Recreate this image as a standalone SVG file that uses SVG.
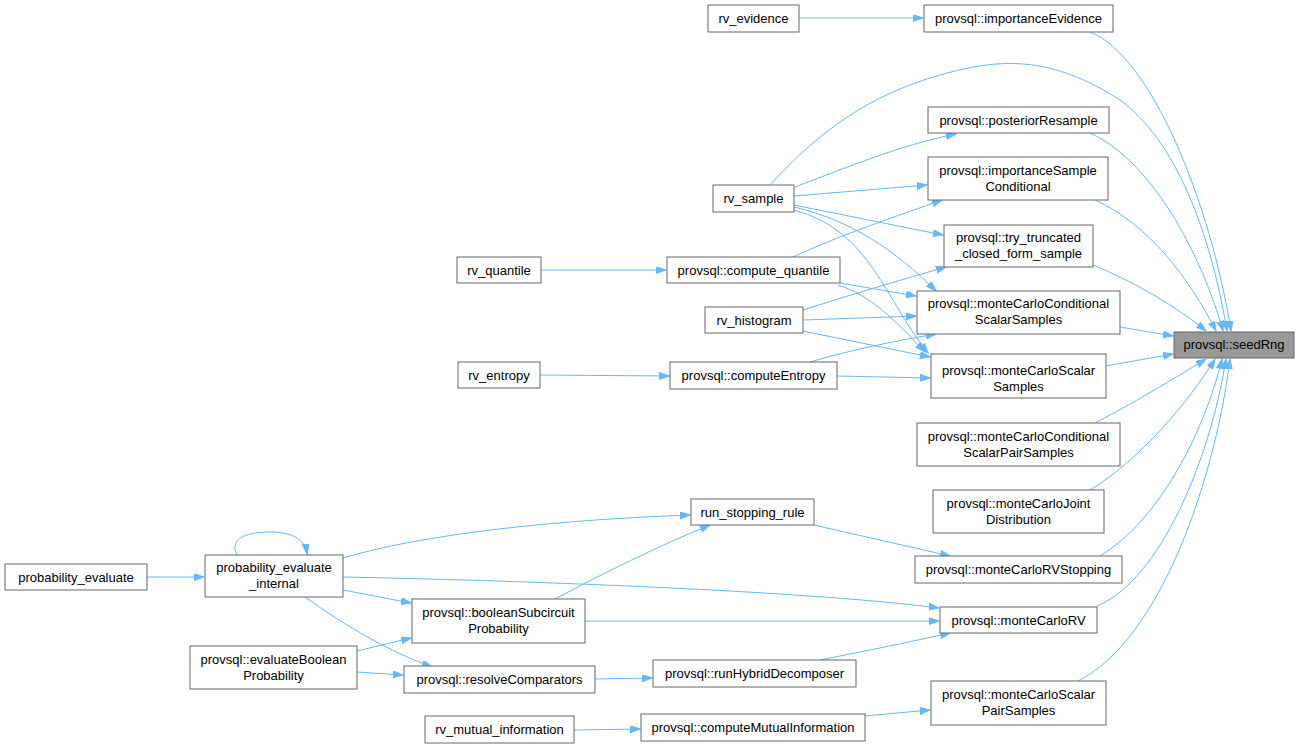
<svg xmlns="http://www.w3.org/2000/svg" width="1300" height="749" viewBox="0 0 1300 749">
<style>
.n rect{fill:#ffffff;stroke:#666666;stroke-width:1}
.n text{font-family:"Liberation Sans",Arial,sans-serif;font-size:13px;fill:#000000;text-anchor:middle}
#seedRng rect{fill:#999999}
.e path{fill:none;stroke:#63b8ff;stroke-width:1;marker-end:url(#ah)}
</style>
<defs>
<marker id="ah" markerUnits="userSpaceOnUse" markerWidth="11" markerHeight="8" refX="10" refY="3.5" orient="auto">
<path d="M0,0 L10,3.5 L0,7 z" fill="#63b8ff" stroke="#63b8ff" stroke-width="1"/>
</marker>
</defs>
<rect width="1300" height="749" fill="#ffffff"/>
<g id="edges" class="e">
<path d="M799,18 L923,18"/>
<path d="M1090,32 C1150,55 1210,200 1231,331"/>
<path d="M770,185 C820,130 870,95 940,75 C1000,58 1050,55 1120,100 C1175,140 1210,230 1227,331"/>
<path d="M1090,133 C1150,160 1200,250 1223,331"/>
<path d="M1095,200 C1150,225 1190,280 1216,331"/>
<path d="M1093,265 C1130,280 1175,305 1206,331"/>
<path d="M1120,327 L1173,336"/>
<path d="M1106,366 L1173,354"/>
<path d="M1095,423 C1130,405 1175,378 1206,359"/>
<path d="M1090,490 C1140,460 1190,400 1215,359"/>
<path d="M1100,556 C1160,520 1205,430 1222,359"/>
<path d="M1097,606 C1160,580 1210,460 1226,359"/>
<path d="M1078,681 C1160,640 1215,480 1230,359"/>
<path d="M795,187 C840,170 900,145 956,134"/>
<path d="M794,196 L927,185"/>
<path d="M794,205 L943,235"/>
<path d="M794,207 C850,220 895,250 936,291"/>
<path d="M794,210 C870,230 885,300 928,353"/>
<path d="M541,270 L666,270"/>
<path d="M793,257 C840,235 900,215 942,200"/>
<path d="M840,283 L916,296"/>
<path d="M838,285 C870,295 895,320 925,352"/>
<path d="M803,310 C850,295 900,280 946,267"/>
<path d="M803,320 L916,316"/>
<path d="M803,331 L930,357"/>
<path d="M540,375 L669,376"/>
<path d="M810,362 C850,350 900,340 936,334"/>
<path d="M837,376 L930,378"/>
<path d="M814,525 L950,556"/>
<path d="M147,577 L204,577"/>
<path d="M237,555 C228,537 250,532 270,532 C290,532 305,538 307,554"/>
<path d="M343,558 C420,535 550,520 690,515"/>
<path d="M343,577 C500,580 800,590 939,608"/>
<path d="M343,590 L411,603"/>
<path d="M305,597 C340,622 385,650 432,667"/>
<path d="M555,599 C600,575 660,545 710,525"/>
<path d="M585,621 L939,621"/>
<path d="M357,651 L411,638"/>
<path d="M357,672 L403,675"/>
<path d="M595,679 L652,678"/>
<path d="M820,660 C870,650 910,642 950,633"/>
<path d="M574,730 L640,729"/>
<path d="M865,716 L930,710"/>
</g>
<g id="rv_evidence" class="n"><rect x="708" y="5" width="91" height="27"/><text x="753.5" y="23">rv_evidence</text></g>
<g id="importanceEvidence" class="n"><rect x="924" y="5" width="189" height="27"/><text x="1018.5" y="23">provsql::importanceEvidence</text></g>
<g id="posteriorResample" class="n"><rect x="928" y="107" width="181" height="26"/><text x="1018.5" y="125">provsql::posteriorResample</text></g>
<g id="importanceSampleConditional" class="n"><rect x="928" y="157" width="180" height="43"/><text x="1018" y="175">provsql::importanceSample</text><text x="1018" y="191">Conditional</text></g>
<g id="rv_sample" class="n"><rect x="713" y="185" width="81" height="27"/><text x="753.5" y="203">rv_sample</text></g>
<g id="try_truncated" class="n"><rect x="944" y="225" width="149" height="42"/><text x="1018.5" y="242">provsql::try_truncated</text><text x="1018.5" y="258">_closed_form_sample</text></g>
<g id="rv_quantile" class="n"><rect x="457" y="257" width="84" height="26"/><text x="499" y="275">rv_quantile</text></g>
<g id="compute_quantile" class="n"><rect x="667" y="257" width="173" height="26"/><text x="753.5" y="275">provsql::compute_quantile</text></g>
<g id="monteCarloConditionalScalarSamples" class="n"><rect x="917" y="291" width="203" height="43"/><text x="1018.5" y="308">provsql::monteCarloConditional</text><text x="1018.5" y="324">ScalarSamples</text></g>
<g id="rv_histogram" class="n"><rect x="705" y="307" width="98" height="26"/><text x="754" y="325">rv_histogram</text></g>
<g id="monteCarloScalarSamples" class="n"><rect x="931" y="354" width="175" height="44"/><text x="1018.5" y="375">provsql::monteCarloScalar</text><text x="1018.5" y="391">Samples</text></g>
<g id="rv_entropy" class="n"><rect x="458" y="362" width="82" height="26"/><text x="499" y="380">rv_entropy</text></g>
<g id="computeEntropy" class="n"><rect x="670" y="362" width="167" height="27"/><text x="753.5" y="380">provsql::computeEntropy</text></g>
<g id="monteCarloConditionalScalarPairSamples" class="n"><rect x="917" y="423" width="203" height="43"/><text x="1018.5" y="441">provsql::monteCarloConditional</text><text x="1018.5" y="457">ScalarPairSamples</text></g>
<g id="monteCarloJointDistribution" class="n"><rect x="933" y="490" width="171" height="43"/><text x="1018.5" y="508">provsql::monteCarloJoint</text><text x="1018.5" y="524">Distribution</text></g>
<g id="run_stopping_rule" class="n"><rect x="691" y="499" width="123" height="26"/><text x="752.5" y="517">run_stopping_rule</text></g>
<g id="probability_evaluate" class="n"><rect x="5" y="564" width="142" height="26"/><text x="76" y="582">probability_evaluate</text></g>
<g id="probability_evaluate_internal" class="n"><rect x="205" y="555" width="138" height="42"/><text x="274" y="572">probability_evaluate</text><text x="274" y="588">_internal</text></g>
<g id="monteCarloRVStopping" class="n"><rect x="915" y="556" width="207" height="27"/><text x="1018.5" y="574">provsql::monteCarloRVStopping</text></g>
<g id="booleanSubcircuitProbability" class="n"><rect x="412" y="599" width="173" height="44"/><text x="498.5" y="617">provsql::booleanSubcircuit</text><text x="498.5" y="633">Probability</text></g>
<g id="monteCarloRV" class="n"><rect x="940" y="607" width="157" height="26"/><text x="1018.5" y="625">provsql::monteCarloRV</text></g>
<g id="evaluateBooleanProbability" class="n"><rect x="190" y="646" width="167" height="43"/><text x="273.5" y="664">provsql::evaluateBoolean</text><text x="273.5" y="680">Probability</text></g>
<g id="resolveComparators" class="n"><rect x="404" y="666" width="191" height="27"/><text x="499.5" y="684">provsql::resolveComparators</text></g>
<g id="runHybridDecomposer" class="n"><rect x="653" y="660" width="203" height="27"/><text x="754.5" y="678">provsql::runHybridDecomposer</text></g>
<g id="monteCarloScalarPairSamples" class="n"><rect x="931" y="681" width="175" height="44"/><text x="1018.5" y="699">provsql::monteCarloScalar</text><text x="1018.5" y="715">PairSamples</text></g>
<g id="rv_mutual_information" class="n"><rect x="425" y="716" width="149" height="27"/><text x="499.5" y="734">rv_mutual_information</text></g>
<g id="computeMutualInformation" class="n"><rect x="641" y="714" width="224" height="27"/><text x="753" y="732">provsql::computeMutualInformation</text></g>
<g id="seedRng" class="n"><rect x="1174" y="332" width="120" height="26"/><text x="1234" y="349">provsql::seedRng</text></g>
</svg>
